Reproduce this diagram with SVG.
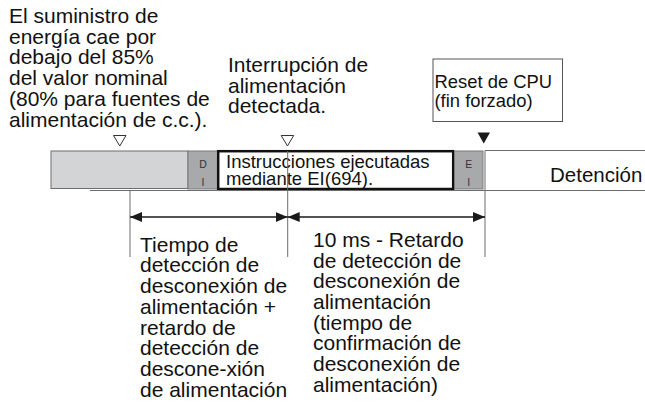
<svg xmlns="http://www.w3.org/2000/svg" width="645" height="404" viewBox="0 0 645 404">
<style>
text{font-family:"Liberation Sans",Arial,sans-serif;fill:#111}
.t21{font-size:21px}
.t18{font-size:18.4px}
.sm{font-size:10.5px;fill:#333;text-anchor:middle}
.ln{stroke:#6d6d6d;stroke-width:1;fill:none}
.dim{stroke:#1a1a1a;stroke-width:1.3;fill:none}
.tri{fill:none;stroke:#333;stroke-width:1}
</style>
<defs>
<marker id="ah" viewBox="0 0 12 10" refX="12" refY="5" markerWidth="12" markerHeight="10" markerUnits="userSpaceOnUse" orient="auto-start-reverse">
<path d="M0,0 L12,5 L0,10 Z" fill="#1a1a1a"/>
</marker>
</defs>
<rect width="645" height="404" fill="#fff"/>

<g id="note-supply">
<text class="t21" x="9" y="23">El suministro de</text>
<text class="t21" x="9" y="43.7">energía cae por</text>
<text class="t21" x="9" y="64.4">debajo del 85%</text>
<text class="t21" x="9" y="85.1">del valor nominal</text>
<text class="t21" x="9" y="105.8">(80% para fuentes de</text>
<text class="t21" x="9" y="126.5">alimentación de c.c.).</text>
</g>

<g id="note-interrupt">
<text class="t21" x="228" y="72">Interrupción de</text>
<text class="t21" x="228" y="92.7">alimentación</text>
<text class="t21" x="228" y="113.4">detectada.</text>
</g>

<g id="reset-box">
<rect x="433" y="59" width="129.5" height="62.5" fill="#fff" stroke="#555" stroke-width="1"/>
<text class="t18" x="434.5" y="88.3">Reset de CPU</text>
<text class="t18" x="434.5" y="107">(fin forzado)</text>
</g>

<g id="markers">
<path class="tri" d="M113.5,135.5 L126,135.5 L119.75,146 Z"/>
<path class="tri" d="M281.2,135.5 L293.7,135.5 L287.45,146 Z"/>
<path d="M477.5,132.5 L490,132.5 L483.75,143.5 Z" fill="#1a1a1a"/>
</g>

<g id="bar-pre">
<rect x="51" y="151" width="137" height="37.5" fill="#d3d4d6" stroke="#6d6d6d" stroke-width="1"/>
</g>

<g id="di-box">
<rect x="188" y="151" width="29.5" height="38" fill="#a8a9ab" stroke="#7a7a7a" stroke-width="1"/>
<text class="sm" x="203" y="168">D</text>
<text class="sm" x="203" y="185.5">I</text>
</g>

<g id="instr-box">
<rect x="218.2" y="151.2" width="235" height="37.8" fill="#fff" stroke="#111" stroke-width="2.5"/>
<text x="226" y="168.3" style="font-size:18.5px">Instrucciones ejecutadas</text>
<text x="226" y="185" style="font-size:18.5px">mediante EI(694).</text>
</g>

<g id="ei-box">
<rect x="454.5" y="151" width="28.5" height="38" fill="#a8a9ab" stroke="#7a7a7a" stroke-width="1"/>
<text class="sm" x="468.8" y="167.5">E</text>
<text class="sm" x="468.8" y="186">I</text>
</g>

<g id="stop">
<text x="550" y="181.7" style="font-size:20.5px">Detención</text>
</g>

<g id="connectors">
<line class="ln" x1="485" y1="150.5" x2="645" y2="150.5"/>
<line class="ln" x1="90" y1="190.5" x2="645" y2="190.5"/>
<line class="ln" x1="130" y1="190.5" x2="130" y2="257"/>
<line class="ln" x1="287.7" y1="151" x2="287.7" y2="257"/>
<line class="ln" x1="485" y1="150.5" x2="485" y2="257"/>
<line class="dim" x1="130" y1="217" x2="287.7" y2="217" marker-start="url(#ah)" marker-end="url(#ah)"/>
<line class="dim" x1="287.7" y1="217" x2="485" y2="217" marker-start="url(#ah)" marker-end="url(#ah)"/>
</g>

<g id="label-left">
<text class="t21" x="140" y="251.7">Tiempo de</text>
<text class="t21" x="140" y="272.4">detección de</text>
<text class="t21" x="140" y="293.1">desconexión de</text>
<text class="t21" x="140" y="313.8">alimentación +</text>
<text class="t21" x="140" y="334.5">retardo de</text>
<text class="t21" x="140" y="355.2">detección de</text>
<text class="t21" x="140" y="375.9">descone-xión</text>
<text class="t21" x="140" y="396.6">de alimentación</text>
</g>

<g id="label-right">
<text class="t21" x="313" y="246.8">10 ms - Retardo</text>
<text class="t21" x="313" y="267.5">de detección de</text>
<text class="t21" x="313" y="288.2">desconexión de</text>
<text class="t21" x="313" y="308.9">alimentación</text>
<text class="t21" x="313" y="329.6">(tiempo de</text>
<text class="t21" x="313" y="350.3">confirmación de</text>
<text class="t21" x="313" y="371">desconexión de</text>
<text class="t21" x="313" y="391.7">alimentación)</text>
</g>
</svg>
